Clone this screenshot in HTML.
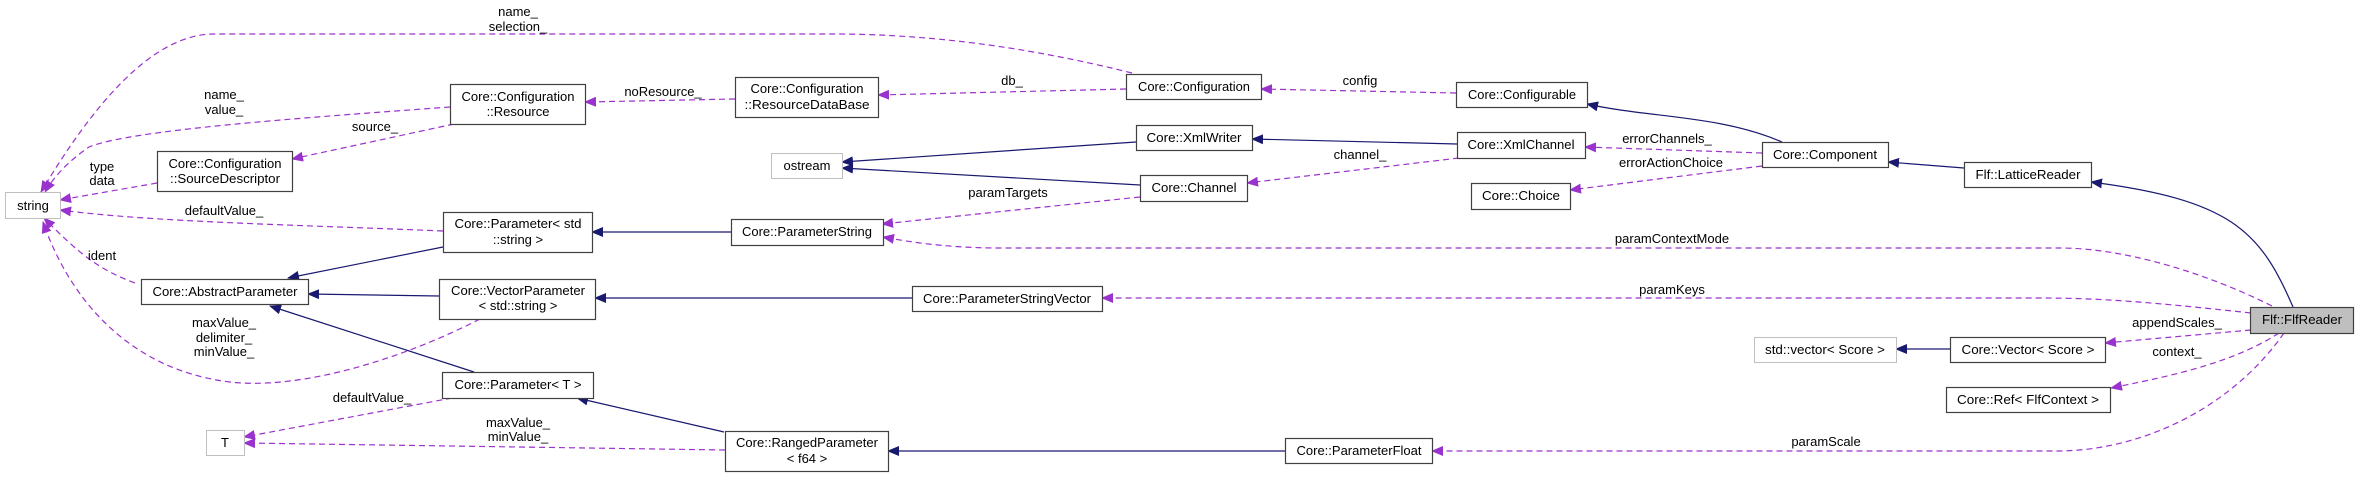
<!DOCTYPE html>
<html><head><meta charset="utf-8"><style>
html,body{margin:0;padding:0;background:#fff;}
svg{display:block;}
text{font-family:"Liberation Sans",sans-serif;font-size:13px;fill:#000;}
.nt{text-anchor:middle;}
.e{fill:none;stroke:#9a32cd;stroke-width:1.2;stroke-dasharray:6,4;}
.s{fill:none;stroke:#191970;stroke-width:1.2;}
.b{fill:#fff;stroke:#404040;stroke-width:1.2;}
.g{fill:#fff;stroke:#bfbfbf;stroke-width:1;}
</style></head><body>
<svg width="2359" height="477" viewBox="0 0 2359 477" xmlns="http://www.w3.org/2000/svg">
<defs>
<marker id="ap" markerWidth="12" markerHeight="10" refX="11" refY="5" orient="auto" markerUnits="userSpaceOnUse"><path d="M0,0 L12,5 L0,10 z" fill="#9a32cd"/></marker>
<marker id="an" markerWidth="12" markerHeight="10" refX="11" refY="5" orient="auto" markerUnits="userSpaceOnUse"><path d="M0,0 L12,5 L0,10 z" fill="#191970"/></marker>
</defs>

<path class="e" marker-end="url(#ap)" d="M1132,73 C1000,40 900,34 831,34 L214,34 C150,34 90,110 41,192"/>
<path class="e" marker-end="url(#ap)" d="M450,107 C300,118 130,130 89,147 C70,160 55,175 45,192"/>
<path class="e" marker-end="url(#ap)" d="M735,99 L585,102"/>
<path class="e" marker-end="url(#ap)" d="M1126,89 L878,95"/>
<path class="e" marker-end="url(#ap)" d="M1456,93 L1261,89"/>
<path class="e" marker-end="url(#ap)" d="M454,124 L292,159"/>
<path class="e" marker-end="url(#ap)" d="M157,183 L60,200"/>
<path class="e" marker-end="url(#ap)" d="M443,231 C300,225 150,222 60,210"/>
<path class="e" marker-end="url(#ap)" d="M135,283 C100,270 80,255 44,218"/>
<path class="e" marker-end="url(#ap)" d="M480,319 C400,360 300,390 230,382 C130,370 70,300 43,222"/>
<path class="e" marker-end="url(#ap)" d="M452,398 L244,437"/>
<path class="e" marker-end="url(#ap)" d="M725,450 L244,443"/>
<path class="e" marker-end="url(#ap)" d="M1459,158 L1247,183"/>
<path class="e" marker-end="url(#ap)" d="M1140,197 L882,224"/>
<path class="e" marker-end="url(#ap)" d="M1762,153 L1585,147"/>
<path class="e" marker-end="url(#ap)" d="M1762,166 L1570,190"/>
<path class="e" marker-end="url(#ap)" d="M2272,306 C2200,270 2120,248 2060,248 L1000,248 C940,248 900,240 883,237"/>
<path class="e" marker-end="url(#ap)" d="M2251,313 C2150,302 2100,298 2040,298 L1102,298"/>
<path class="e" marker-end="url(#ap)" d="M2251,330 L2105,343"/>
<path class="e" marker-end="url(#ap)" d="M2279,333 C2230,365 2160,378 2111,388"/>
<path class="e" marker-end="url(#ap)" d="M2284,333 C2230,410 2140,450 2060,451 L1432,451"/>

<path class="s" marker-end="url(#an)" d="M443,247 L288,278"/>
<path class="s" marker-end="url(#an)" d="M439,296 L308,294"/>
<path class="s" marker-end="url(#an)" d="M474,372 L270,306"/>
<path class="s" marker-end="url(#an)" d="M724,432 L577,398"/>
<path class="s" marker-end="url(#an)" d="M731,232 L592,232"/>
<path class="s" marker-end="url(#an)" d="M912,298 L595,298"/>
<path class="s" marker-end="url(#an)" d="M1285,451 L888,451"/>
<path class="s" marker-end="url(#an)" d="M1136,142 L842,162"/>
<path class="s" marker-end="url(#an)" d="M1140,185 L842,168"/>
<path class="s" marker-end="url(#an)" d="M1457,144 L1252,139"/>
<path class="s" marker-end="url(#an)" d="M1782,142 C1720,115 1650,118 1587,104"/>
<path class="s" marker-end="url(#an)" d="M1964,168 L1888,162"/>
<path class="s" marker-end="url(#an)" d="M2293,307 C2260,230 2230,200 2091,182"/>
<path class="s" marker-end="url(#an)" d="M1950,349 L1896,349"/>

<g>
<text x="518" y="16" class="nt">name_</text><text x="518" y="31" class="nt">selection_</text>
<text x="224" y="99" class="nt">name_</text><text x="224" y="114" class="nt">value_</text>
<text x="663" y="96" class="nt">noResource_</text>
<text x="1012" y="85" class="nt">db_</text>
<text x="1360" y="85" class="nt">config</text>
<text x="375" y="131" class="nt">source_</text>
<text x="102" y="171" class="nt">type</text><text x="102" y="185" class="nt">data</text>
<text x="224" y="215" class="nt">defaultValue_</text>
<text x="102" y="260" class="nt">ident</text>
<text x="224" y="327" class="nt">maxValue_</text><text x="224" y="342" class="nt">delimiter_</text><text x="224" y="356" class="nt">minValue_</text>
<text x="372" y="402" class="nt">defaultValue_</text>
<text x="518" y="427" class="nt">maxValue_</text><text x="518" y="441" class="nt">minValue_</text>
<text x="1360" y="159" class="nt">channel_</text>
<text x="1008" y="197" class="nt">paramTargets</text>
<text x="1667" y="143" class="nt">errorChannels_</text>
<text x="1671" y="167" class="nt">errorActionChoice</text>
<text x="1672" y="243" class="nt">paramContextMode</text>
<text x="1672" y="294" class="nt">paramKeys</text>
<text x="2177" y="327" class="nt">appendScales_</text>
<text x="2177" y="356" class="nt">context_</text>
<text x="1826" y="446" class="nt">paramScale</text>
</g>

<rect class="g" x="5.5" y="192.5" width="55" height="26"/><text class="nt" x="33" y="210">string</text>
<rect class="b" x="450.5" y="84.5" width="135" height="40"/><text class="nt" x="518" y="101" textLength="113" lengthAdjust="spacingAndGlyphs">Core::Configuration</text><text class="nt" x="518" y="116">::Resource</text>
<rect class="b" x="157.5" y="151.5" width="135" height="40"/><text class="nt" x="225" y="168" textLength="113" lengthAdjust="spacingAndGlyphs">Core::Configuration</text><text class="nt" x="225" y="183" textLength="110" lengthAdjust="spacingAndGlyphs">::SourceDescriptor</text>
<rect class="b" x="443.5" y="212.5" width="149" height="40"/><text class="nt" x="518" y="228" textLength="127" lengthAdjust="spacingAndGlyphs">Core::Parameter&lt; std</text><text class="nt" x="518" y="244">::string &gt;</text>
<rect class="b" x="141.5" y="279.5" width="167" height="25"/><text class="nt" x="225" y="296" textLength="145" lengthAdjust="spacingAndGlyphs">Core::AbstractParameter</text>
<rect class="b" x="439.5" y="279.5" width="156" height="40"/><text class="nt" x="518" y="295" textLength="134" lengthAdjust="spacingAndGlyphs">Core::VectorParameter</text><text class="nt" x="518" y="310">&lt; std::string &gt;</text>
<rect class="b" x="442.5" y="372.5" width="151" height="26"/><text class="nt" x="518" y="389" textLength="127" lengthAdjust="spacingAndGlyphs">Core::Parameter&lt; T &gt;</text>
<rect class="g" x="206.5" y="430.5" width="38" height="25"/><text class="nt" x="225" y="447">T</text>
<rect class="b" x="735.5" y="77.5" width="143" height="40"/><text class="nt" x="807" y="93" textLength="113" lengthAdjust="spacingAndGlyphs">Core::Configuration</text><text class="nt" x="807" y="109" textLength="125" lengthAdjust="spacingAndGlyphs">::ResourceDataBase</text>
<rect class="g" x="771.5" y="153.5" width="71" height="25"/><text class="nt" x="807" y="170">ostream</text>
<rect class="b" x="731.5" y="219.5" width="152" height="26"/><text class="nt" x="807" y="236" textLength="130" lengthAdjust="spacingAndGlyphs">Core::ParameterString</text>
<rect class="b" x="725.5" y="431.5" width="163" height="40"/><text class="nt" x="807" y="447" textLength="142" lengthAdjust="spacingAndGlyphs">Core::RangedParameter</text><text class="nt" x="807" y="463">&lt; f64 &gt;</text>
<rect class="b" x="1126.5" y="74.5" width="135" height="25"/><text class="nt" x="1194" y="91" textLength="112" lengthAdjust="spacingAndGlyphs">Core::Configuration</text>
<rect class="b" x="1456.5" y="82.5" width="131" height="25"/><text class="nt" x="1522" y="99" textLength="108" lengthAdjust="spacingAndGlyphs">Core::Configurable</text>
<rect class="b" x="1136.5" y="125.5" width="116" height="25"/><text class="nt" x="1194" y="142" textLength="95" lengthAdjust="spacingAndGlyphs">Core::XmlWriter</text>
<rect class="b" x="1457.5" y="132.5" width="128" height="26"/><text class="nt" x="1521" y="149" textLength="107" lengthAdjust="spacingAndGlyphs">Core::XmlChannel</text>
<rect class="b" x="1140.5" y="175.5" width="107" height="26"/><text class="nt" x="1194" y="192" textLength="85" lengthAdjust="spacingAndGlyphs">Core::Channel</text>
<rect class="b" x="1471.5" y="183.5" width="99" height="26"/><text class="nt" x="1521" y="200" textLength="78" lengthAdjust="spacingAndGlyphs">Core::Choice</text>
<rect class="b" x="912.5" y="286.5" width="190" height="25"/><text class="nt" x="1007" y="303" textLength="168" lengthAdjust="spacingAndGlyphs">Core::ParameterStringVector</text>
<rect class="b" x="1285.5" y="438.5" width="147" height="25"/><text class="nt" x="1359" y="455" textLength="125" lengthAdjust="spacingAndGlyphs">Core::ParameterFloat</text>
<rect class="b" x="1762.5" y="142.5" width="126" height="25"/><text class="nt" x="1825" y="159" textLength="104" lengthAdjust="spacingAndGlyphs">Core::Component</text>
<rect class="b" x="1964.5" y="162.5" width="127" height="25"/><text class="nt" x="2028" y="179" textLength="105" lengthAdjust="spacingAndGlyphs">Flf::LatticeReader</text>
<rect x="2250.5" y="307.5" width="103" height="26" fill="#bfbfbf" stroke="#404040" stroke-width="1.2"/><text class="nt" x="2302" y="324" textLength="80" lengthAdjust="spacingAndGlyphs">Flf::FlfReader</text>
<rect class="g" x="1754.5" y="337.5" width="142" height="25"/><text class="nt" x="1825" y="354" textLength="120" lengthAdjust="spacingAndGlyphs">std::vector&lt; Score &gt;</text>
<rect class="b" x="1950.5" y="337.5" width="155" height="25"/><text class="nt" x="2028" y="354" textLength="133" lengthAdjust="spacingAndGlyphs">Core::Vector&lt; Score &gt;</text>
<rect class="b" x="1946.5" y="387.5" width="164" height="25"/><text class="nt" x="2028" y="404" textLength="142" lengthAdjust="spacingAndGlyphs">Core::Ref&lt; FlfContext &gt;</text>
</svg>
</body></html>
